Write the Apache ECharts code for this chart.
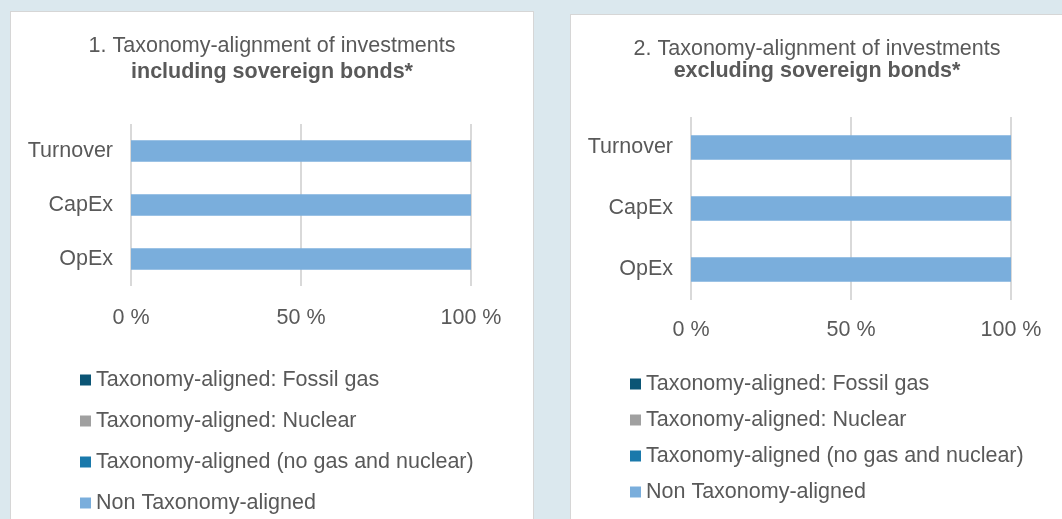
<!DOCTYPE html>
<html>
<head>
<meta charset="utf-8">
<script src="https://cdn.jsdelivr.net/npm/echarts@6/dist/echarts.min.js"></script>
<style>
  html, body { margin: 0; padding: 0; width: 1062px; height: 519px; overflow: hidden; background: #dbe8ee; }
  .panel { position: absolute; background: #ffffff; border: 1px solid #d6d6d6; box-sizing: border-box; }
  .chart { position: absolute; }
</style>
</head>
<body>
<div class="panel" style="left:10px; top:11px; width:524px; height:520px;"></div>
<div class="panel" style="left:570px; top:14px; width:500px; height:520px;"></div>
<div id="c1" class="chart" style="left:10px; top:11px; width:524px; height:508px;"></div>
<div id="c2" class="chart" style="left:570px; top:14px; width:494px; height:505px;"></div>
<script>
// ---- data ----
const categories = ['Turnover', 'CapEx', 'OpEx'];
const seriesNames = [
  'Taxonomy-aligned: Fossil gas',
  'Taxonomy-aligned: Nuclear',
  'Taxonomy-aligned (no gas and nuclear)',
  'Non Taxonomy-aligned'
];
// chart 1: including sovereign bonds (% per category)
const incFossilGas = [0, 0, 0];
const incNuclear = [0, 0, 0];
const incAligned = [0, 0, 0];
const incNonAligned = [100, 100, 100];
// chart 2: excluding sovereign bonds
const excFossilGas = [0, 0, 0];
const excNuclear = [0, 0, 0];
const excAligned = [0, 0, 0];
const excNonAligned = [100, 100, 100];
const xTicks = [0, 50, 100];
const titles1 = ['1. Taxonomy-alignment of investments', 'including sovereign bonds*'];
const titles2 = ['2. Taxonomy-alignment of investments', 'excluding sovereign bonds*'];

// ---- styling ----
const colors = ['#0b5575', '#a0a0a0', '#1a79ab', '#7aaedc'];
const FONT = '"Liberation Sans", Arial, sans-serif';
const TXT = '#595959';
const FS = 21.5;

function buildOption(titles, values, L) {
  return {
    animation: false,
    textStyle: { fontFamily: FONT },
    title: [
      { text: titles[0], left: 'center', top: L.t1, padding: 0,
        textStyle: { fontFamily: FONT, fontSize: FS, fontWeight: 'normal', color: TXT } },
      { text: titles[1], left: 'center', top: L.t2, padding: 0,
        textStyle: { fontFamily: FONT, fontSize: FS, fontWeight: 'bold', color: TXT } }
    ],
    legend: {
      orient: 'vertical', left: L.legLeft, top: L.legTop, padding: 0,
      itemWidth: 11, itemHeight: 11, itemGap: L.legGap, icon: 'rect',
      selectedMode: false,
      textStyle: { fontFamily: FONT, fontSize: FS, color: TXT, padding: [0, 0, 0, 0] },
      data: seriesNames
    },
    grid: { left: L.gl, top: L.gt, width: L.gw, height: L.gh, containLabel: false },
    xAxis: {
      type: 'value', min: xTicks[0], max: xTicks[xTicks.length - 1], interval: xTicks[1] - xTicks[0],
      axisLine: { show: false }, axisTick: { show: false },
      splitLine: { show: true, lineStyle: { color: '#d9d9d9', width: 2 } },
      axisLabel: { formatter: '{value} %', fontFamily: FONT, fontSize: FS, color: TXT, margin: L.xm }
    },
    yAxis: {
      type: 'category', data: categories, inverse: true,
      axisLine: { show: false }, axisTick: { show: false },
      axisLabel: { fontFamily: FONT, fontSize: FS, color: TXT, margin: 18 }
    },
    series: seriesNames.map((n, i) => ({
      name: n, type: 'bar', stack: 'total', barWidth: '40%',
      itemStyle: { color: colors[i] },
      data: values[i]
    }))
  };
}

const c1 = echarts.init(document.getElementById('c1'), null, { renderer: 'canvas' });
c1.setOption(buildOption(titles1, [incFossilGas, incNuclear, incAligned, incNonAligned], {
  t1: 24, t2: 50, legLeft: 70, legTop: 358, legGap: 19,
  gl: 121, gt: 113, gw: 340, gh: 162, xm: 21
}));
const c2 = echarts.init(document.getElementById('c2'), null, { renderer: 'canvas' });
c2.setOption(buildOption(titles2, [excFossilGas, excNuclear, excAligned, excNonAligned], {
  t1: 24, t2: 46, legLeft: 60, legTop: 359, legGap: 14,
  gl: 121, gt: 103, gw: 320, gh: 183, xm: 19
}));
</script>
</body>
</html>
